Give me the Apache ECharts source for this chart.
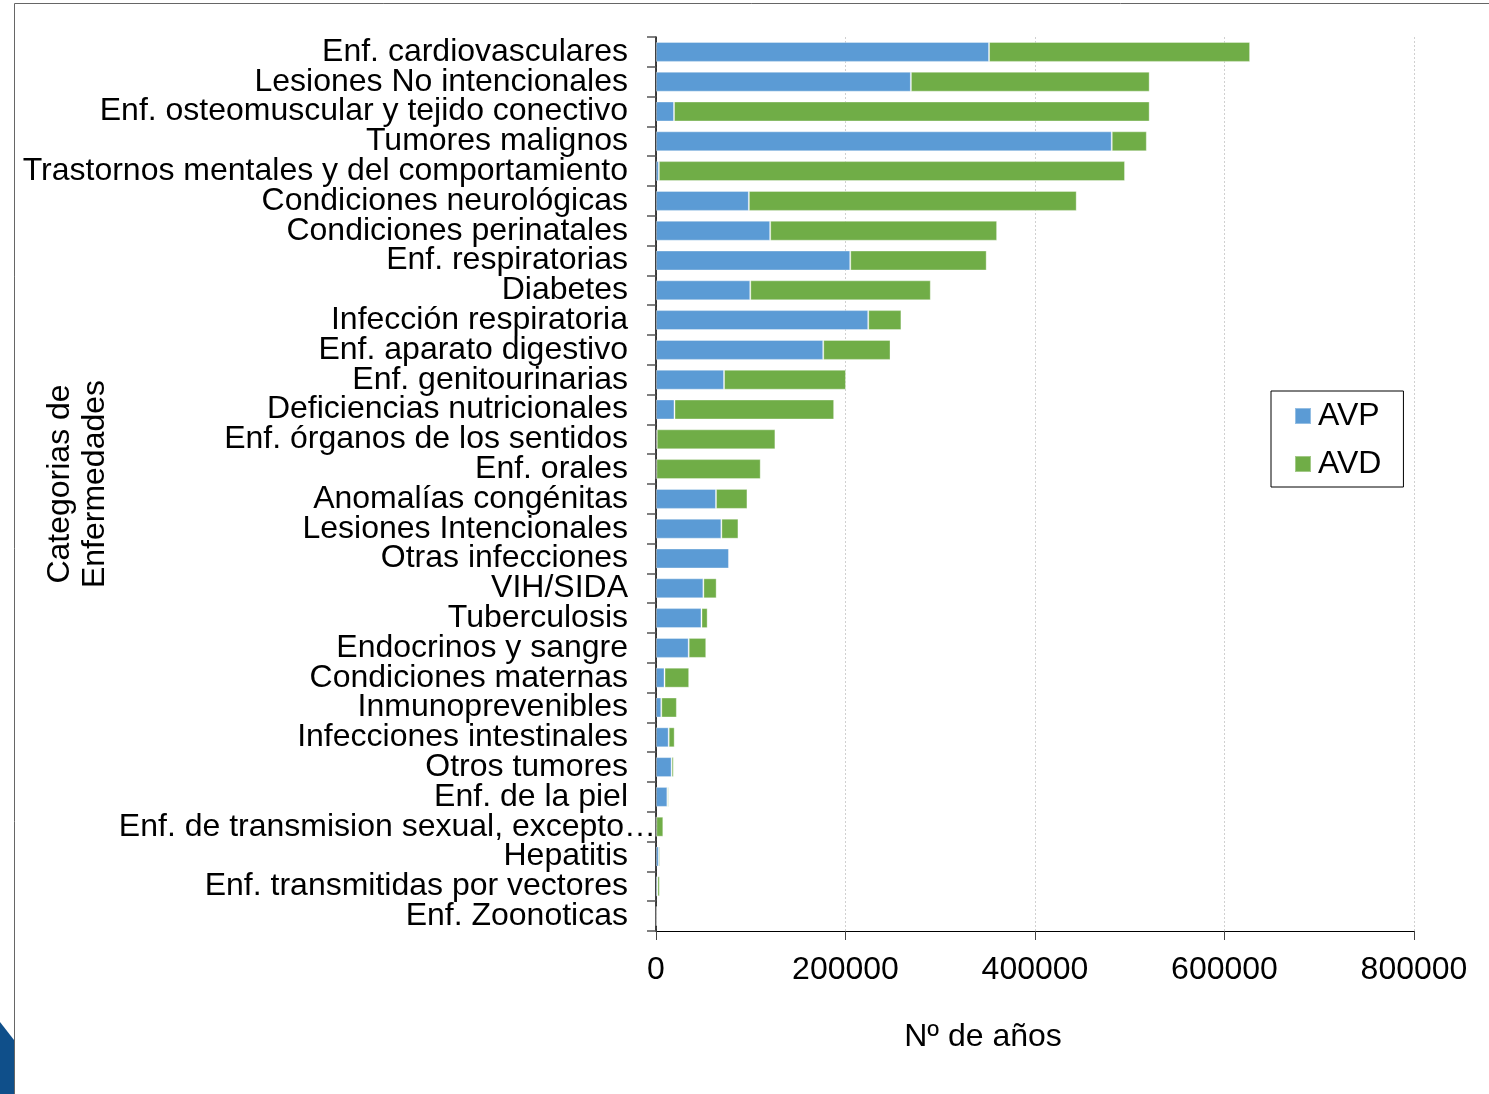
<!DOCTYPE html>
<html>
<head>
<meta charset="utf-8">
<script src="https://cdn.jsdelivr.net/npm/echarts@6/dist/echarts.min.js"></script>
<style>
html,body{margin:0;padding:0;background:#fff;}
#chart{width:1489px;height:1094px;}
</style>
</head>
<body>
<div id="chart"></div>
<script>
const categories = [
  'Enf. cardiovasculares',
  'Lesiones No intencionales',
  'Enf. osteomuscular y tejido conectivo',
  'Tumores malignos',
  'Trastornos mentales y del comportamiento',
  'Condiciones neurológicas',
  'Condiciones perinatales',
  'Enf. respiratorias',
  'Diabetes',
  'Infección respiratoria',
  'Enf. aparato digestivo',
  'Enf. genitourinarias',
  'Deficiencias nutricionales',
  'Enf. órganos de los sentidos',
  'Enf. orales',
  'Anomalías congénitas',
  'Lesiones Intencionales',
  'Otras infecciones',
  'VIH/SIDA',
  'Tuberculosis',
  'Endocrinos y sangre',
  'Condiciones maternas',
  'Inmunoprevenibles',
  'Infecciones intestinales',
  'Otros tumores',
  'Enf. de la piel',
  'Enf. de transmision sexual, excepto…',
  'Hepatitis',
  'Enf. transmitidas por vectores',
  'Enf. Zoonoticas'
];
const avp = [351500, 269000, 19000, 481000, 3000, 98000, 120500, 205000, 99500, 224000, 176500, 71800, 19500, 800, 400, 63300, 69000, 77000, 50000, 48000, 34500, 9000, 5600, 13400, 16500, 12000, 300, 3000, 1500, 500];
const avd = [275500, 252000, 502000, 37000, 492000, 346000, 239500, 144000, 190500, 35000, 71000, 128700, 168500, 125200, 110100, 33200, 18000, 1000, 14000, 6500, 18500, 26000, 16400, 6300, 2200, 1400, 7400, 1500, 2500, 1000];
const xTicks = [0, 200000, 400000, 600000, 800000];
const seriesNames = ['AVP', 'AVD'];

const font = 'Liberation Sans, Arial, sans-serif';
const chart = echarts.init(document.getElementById('chart'));

const catData = categories.map(function (c) {
  if (c.indexOf('excepto') >= 0) {
    return { value: c, textStyle: { padding: [4, -28, 0, 0] } };
  }
  return c;
});

chart.setOption({
  animation: false,
  backgroundColor: '#fff',
  textStyle: { fontFamily: font },
  graphic: [
    { type: 'line', shape: { x1: 14.5, y1: 3.5, x2: 1489, y2: 3.5 }, style: { stroke: '#666', lineWidth: 1 } },
    { type: 'line', shape: { x1: 14.5, y1: 3.5, x2: 14.5, y2: 1094 }, style: { stroke: '#666', lineWidth: 1 } },
    { type: 'polygon', shape: { points: [[0, 1022], [14, 1040], [14, 1094], [0, 1094]] }, style: { fill: '#0f4f8a' } }
  ],
  legend: {
    data: seriesNames,
    orient: 'vertical',
    left: 1271,
    top: 391,
    width: 133,
    padding: [9, 22, 7, 23],
    itemWidth: 16,
    itemHeight: 16,
    itemGap: 16,
    borderColor: '#000',
    borderWidth: 1,
    icon: 'rect',
    textStyle: { fontSize: 32, color: '#000', fontFamily: font, padding: [0, 0, 0, 2] }
  },
  grid: { left: 656, right: 75, top: 37, bottom: 163, containLabel: false, outerBoundsMode: 'none' },
  xAxis: {
    type: 'value',
    min: 0,
    max: 800000,
    interval: 200000,
    name: 'Nº de años',
    nameLocation: 'middle',
    nameGap: 90,
    nameMoveOverlap: false,
    nameTextStyle: { fontSize: 32, color: '#000', fontFamily: font, padding: [0, 104, 0, 0] },
    axisLine: { show: true, lineStyle: { color: '#000', width: 1 } },
    axisTick: { show: true, length: 9, lineStyle: { color: '#444' } },
    axisLabel: {
      fontSize: 32, color: '#000', margin: 23, fontFamily: font,
      formatter: function (v) { return xTicks.indexOf(v) >= 0 ? String(v) : ''; }
    },
    splitLine: { show: true, lineStyle: { color: '#d0d0d0', type: [2, 2], width: 1 } }
  },
  yAxis: {
    type: 'category',
    inverse: true,
    data: catData,
    name: 'Categorias de\nEnfermedades',
    nameLocation: 'middle',
    nameGap: 543,
    nameRotate: 90,
    nameMoveOverlap: false,
    nameTextStyle: { fontSize: 32, color: '#000', fontFamily: font, lineHeight: 35 },
    axisLine: { show: true, lineStyle: { color: '#000', width: 1.5 } },
    axisTick: { show: true, length: 9, alignWithLabel: false, lineStyle: { color: '#555', width: 1.5 } },
    axisLabel: { interval: 0, fontSize: 32, color: '#000', margin: 28, fontFamily: font, padding: [4, 0, 0, 0] },
    splitLine: { show: false }
  },
  series: [
    {
      name: seriesNames[0], type: 'bar', stack: 'total', data: avp,
      barCategoryGap: '33%',
      itemStyle: { color: '#5B9BD5', borderColor: 'rgba(255,255,255,0.35)', borderWidth: 1 }
    },
    {
      name: seriesNames[1], type: 'bar', stack: 'total', data: avd,
      barCategoryGap: '33%',
      itemStyle: { color: '#70AD47', borderColor: 'rgba(255,255,255,0.35)', borderWidth: 1 }
    }
  ]
});
</script>
</body>
</html>
